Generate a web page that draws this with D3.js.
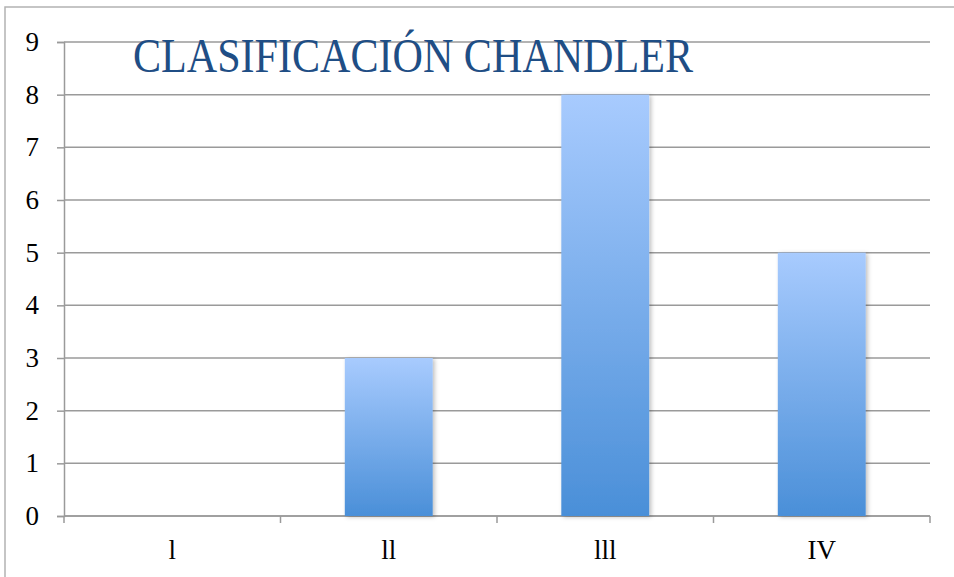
<!DOCTYPE html>
<html>
<head>
<meta charset="utf-8">
<script src="https://cdn.jsdelivr.net/npm/d3@7"></script>
<style>
  body { margin: 0; background: #fff; }
  svg { display: block; }
</style>
</head>
<body>
<svg></svg>
<script>
// chart data
var categories = ["l", "ll", "lll", "IV"];
var values = [0, 3, 8, 5];
var yTicks = [0, 1, 2, 3, 4, 5, 6, 7, 8, 9];
var title = "CLASIFICACIÓN CHANDLER";

var width = 954;
var height = 577;
var margin = {top: 42, right: 24, bottom: 61, left: 64};
var innerW = width - margin.left - margin.right;
var innerH = height - margin.top - margin.bottom;

var svg = d3.select("svg")
    .attr("width", width)
    .attr("height", height);

// ---------- defs: gradient + shadow ----------
var defs = svg.append("defs");
var grad = defs.append("linearGradient")
    .attr("id", "barGrad")
    .attr("x1", 0).attr("y1", 0).attr("x2", 0).attr("y2", 1);
grad.append("stop").attr("offset", "0%").attr("stop-color", "#a8cbfe");
grad.append("stop").attr("offset", "100%").attr("stop-color", "#4a8fd8");

var shadow = defs.append("filter")
    .attr("id", "shadow")
    .attr("x", "-10%").attr("y", "-10%").attr("width", "130%").attr("height", "120%");
shadow.append("feDropShadow")
    .attr("dx", 2).attr("dy", 1)
    .attr("stdDeviation", 2)
    .attr("flood-color", "#000")
    .attr("flood-opacity", 0.25);

// outer frame
svg.append("rect")
    .attr("x", 5).attr("y", 7)
    .attr("width", width + 10).attr("height", height + 10)
    .attr("fill", "none")
    .attr("stroke", "#b3b3b3")
    .attr("stroke-width", 1.5);

// ---------- scales ----------
var xs = d3.scaleBand().domain(categories).range([0, innerW]).paddingInner(0.594).paddingOuter(0.297);
var xEdges = d3.scaleLinear().domain([0, categories.length]).range([0, innerW]);
var ys = d3.scaleLinear().domain([0, 9]).range([innerH, 0]);

var g = svg.append("g")
    .attr("transform", "translate(" + margin.left + "," + margin.top + ")");

// gridlines
g.append("g")
    .selectAll("line")
    .data(yTicks)
    .enter()
    .append("line")
    .attr("x1", 0).attr("x2", innerW)
    .attr("y1", function(d) { return ys(d); })
    .attr("y2", function(d) { return ys(d); })
    .attr("stroke", "#9a9a9a")
    .attr("stroke-width", 1.5);

// y axis
var yAxis = g.append("g")
    .call(d3.axisLeft(ys).tickValues(yTicks).tickSize(7).tickPadding(18).tickFormat(d3.format("d")));
yAxis.select(".domain").attr("stroke", "#9a9a9a").attr("stroke-width", 1.5);
yAxis.selectAll(".tick line").attr("stroke", "#9a9a9a").attr("stroke-width", 1.5);
yAxis.selectAll("text")
    .attr("font-family", "'Liberation Serif', serif")
    .attr("font-size", 27)
    .attr("fill", "#000");

// x axis: ticks at category boundaries
var xAxis = g.append("g")
    .attr("transform", "translate(0," + innerH + ")");
xAxis.append("line")
    .attr("x1", 0).attr("x2", innerW)
    .attr("stroke", "#9a9a9a").attr("stroke-width", 1.5);
xAxis.selectAll(".edge")
    .data(d3.range(categories.length + 1))
    .enter()
    .append("line")
    .attr("class", "edge")
    .attr("x1", function(d) { return xEdges(d); })
    .attr("x2", function(d) { return xEdges(d); })
    .attr("y1", 0).attr("y2", 7)
    .attr("stroke", "#9a9a9a").attr("stroke-width", 1.5);
xAxis.selectAll(".lbl")
    .data(categories)
    .enter()
    .append("text")
    .attr("class", "lbl")
    .attr("x", function(d) { return xs(d) + xs.bandwidth() / 2; })
    .attr("y", 43)
    .attr("text-anchor", "middle")
    .attr("font-family", "'Liberation Serif', serif")
    .attr("font-size", 27)
    .attr("fill", "#000")
    .text(function(d) { return d; });

// bars
g.append("g")
    .selectAll("rect")
    .data(values)
    .enter()
    .filter(function(d) { return d > 0; })
    .append("rect")
    .attr("x", function(d, i) { return xs(categories[values.indexOf(d)]); })
    .attr("y", function(d) { return ys(d); })
    .attr("width", xs.bandwidth())
    .attr("height", function(d) { return innerH - ys(d); })
    .attr("fill", "url(#barGrad)")
    .attr("filter", "url(#shadow)");

// title
svg.append("text")
    .attr("x", 133)
    .attr("y", 72)
    .attr("font-family", "'Liberation Serif', serif")
    .attr("font-size", 48)
    .attr("fill", "#1f4e85")
    .attr("textLength", 560)
    .attr("lengthAdjust", "spacingAndGlyphs")
    .text(title);
</script>
</body>
</html>
